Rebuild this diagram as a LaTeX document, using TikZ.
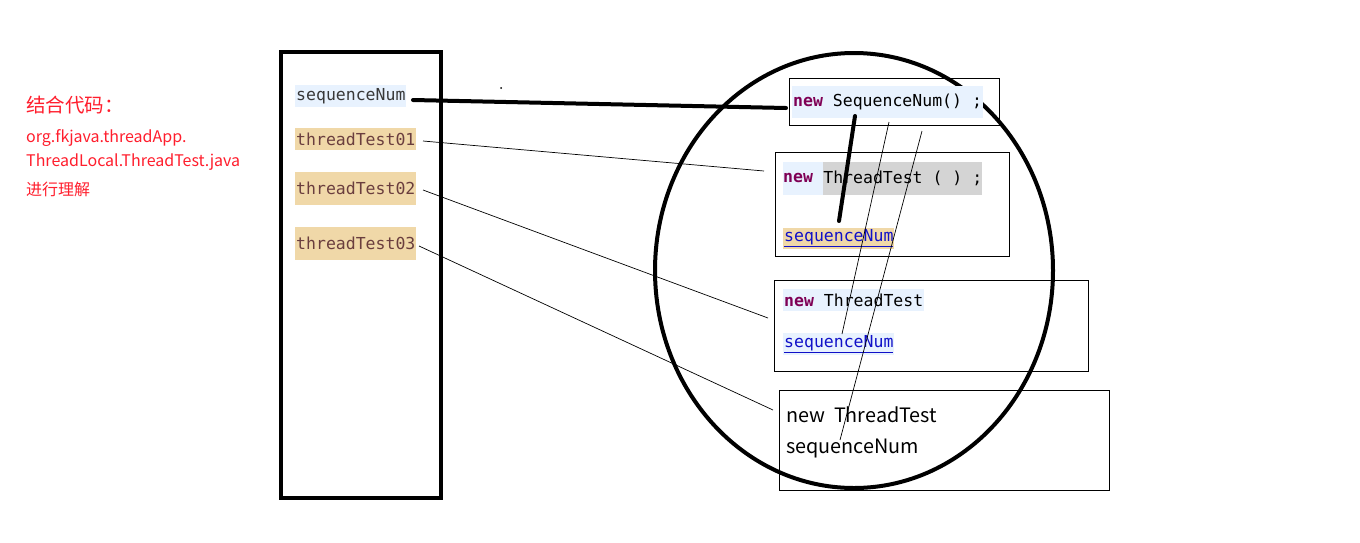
\documentclass[tikz,border=0pt]{standalone}
\usepackage{fontspec}
\newfontfamily\cjk{Noto Sans CJK SC}
\newfontfamily\mono{DejaVu Sans Mono}
\definecolor{kwpurple}{HTML}{7F0055}
\definecolor{bglight}{HTML}{E8F2FE}
\definecolor{bgtan}{HTML}{F0D8A8}
\definecolor{bggray}{HTML}{D4D4D4}
\definecolor{linkblue}{HTML}{1010C8}
\definecolor{varbrown}{HTML}{6A3E3E}
\definecolor{notered}{HTML}{FF1E2D}
\begin{document}
\begin{tikzpicture}[x=1pt,y=-1pt,
  frame/.style={draw=black,line width=4pt},
  boxr/.style={draw=black,line width=0.9pt,anchor=north west,inner sep=0pt},
  code/.style={font=\mono\fontsize{16.5}{16.5}\selectfont,inner xsep=1pt,inner ysep=0pt,anchor=west},
  lbl/.style={code,minimum height=22pt},
  note/.style={font=\cjk\fontsize{16}{16}\selectfont,text=notered,anchor=west,inner sep=0pt},
  plain/.style={font=\cjk\fontsize{19.8}{19.8}\selectfont,anchor=west,inner sep=0pt},
  thick/.style={line width=4pt,line cap=round},
  thin/.style={line width=0.7pt}]
\useasboundingbox[fill=white] (0,0) rectangle (1360,542);

% red note
\node[note,font=\cjk\fontsize{19.5}{19.5}\selectfont] (n1) at (26,105) {结合代码：};
\node[note] (n2) at (26,138) {org.fkjava.threadApp.};
\node[note] (n3) at (26,162) {ThreadLocal.ThreadTest.java};
\node[note] (n4) at (26,189) {进行理解};

% left frame
\draw[frame] (280.5,52) rectangle (440.5,498);
\node[lbl,fill=bglight,text=black!78] (lseq) at (295,96) {sequenceNum};
\node[lbl,fill=bgtan,text=varbrown] (lt1) at (295,139) {threadTest01};
\node[code,fill=bgtan,text=varbrown,minimum height=33pt] (lt2) at (295,188.5) {threadTest02};
\node[code,fill=bgtan,text=varbrown,minimum height=33pt] (lt3) at (295,243.5) {threadTest03};

% boxes
\node[boxr,minimum width=210pt,minimum height=47pt] (b1) at (789,78) {};
\node[boxr,minimum width=234pt,minimum height=104pt] (b2) at (775,152) {};
\node[boxr,minimum width=314pt,minimum height=91pt] (b3) at (774,280) {};
\node[boxr,minimum width=330pt,minimum height=100pt] (b4) at (779,390) {};

% ellipse
\draw[line width=4pt] (854,270.5) ellipse [x radius=199, y radius=217.5];

% box 1
\node[code,fill=bglight,minimum height=32pt,inner xsep=1pt] (k1) at (792,102) {\textcolor{kwpurple}{\textbf{new}}\ SequenceNum()\ ;};
% box 2
\node[code,fill=bglight,minimum height=33pt,inner xsep=0pt] (k2) at (783,178) {\textcolor{kwpurple}{\textbf{new}}\ \null};
\node[code,fill=bggray,minimum height=33pt,inner xsep=0pt] (k2b) at (k2.east) {ThreadTest\ (\ )\ ;};
\node[code,fill=bgtan,text=linkblue,minimum height=21pt] (s2) at (783,238) {\underline{sequenceNum}};
% box 3
\node[code,fill=bglight,minimum height=22pt] (k3) at (783,300) {\textcolor{kwpurple}{\textbf{new}}\ ThreadTest};
\node[code,fill=bglight,text=linkblue,minimum height=22pt] (s3) at (783,344) {\underline{sequenceNum}};
% box 4
\node[plain] (k4) at (786,415) {new\ \ ThreadTest};
\node[plain] (s4) at (786,448) {sequenceNum};

% stray dot
\fill (501,88) circle (1pt);

% connectors
\coordinate (p0) at (413,100);
\coordinate (p1) at (786,108);
\draw[thick] (p0) -- (p1);
\coordinate (q0) at (855,116);
\coordinate (q1) at (839,221);
\draw[thick] (q0) -- (q1);
\coordinate (a0) at (423,141);
\coordinate (a1) at (764,171);
\draw[thin] (a0) -- (a1);
\coordinate (c0) at (423,190);
\coordinate (c1) at (768,318);
\draw[thin] (c0) -- (c1);
\coordinate (d0) at (419,246);
\coordinate (d1) at (773,410);
\draw[thin] (d0) -- (d1);
\coordinate (e0) at (889,122);
\coordinate (e1) at (842,334);
\draw[thin] (e0) -- (e1);
\coordinate (f0) at (922,131);
\coordinate (f1) at (840,440);
\draw[thin] (f0) -- (f1);
\end{tikzpicture}
\end{document}
